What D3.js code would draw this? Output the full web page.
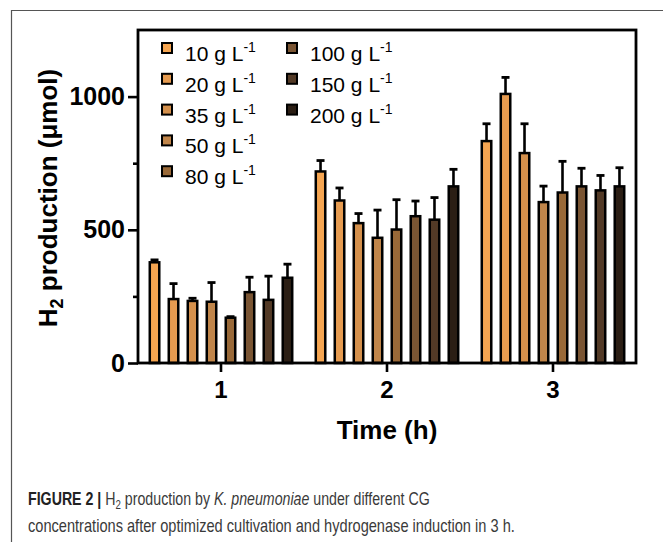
<!DOCTYPE html>
<html>
<head>
<meta charset="utf-8">
<script src="https://cdn.jsdelivr.net/npm/d3@7"></script>
<style>
  body { margin: 0; background: #fff; }
  svg { display: block; font-family: "Liberation Sans", Arial, Helvetica, sans-serif; }
</style>
</head>
<body>
<svg id="chart" width="663" height="542"></svg>
<script>
// data
const timeLabels = ["1", "2", "3"];
const concLabels = ["10", "20", "35", "50", "80", "100", "150", "200"];
const concColors = ["#F5A551", "#E69B50", "#D4904C", "#C0854A", "#996938", "#7A5533", "#533A26", "#2B1E14"];
// mean H2 production (µmol), one array per time point, in concLabels order
const meanT1 = [378, 240, 233, 230, 170, 266, 237, 320];
const meanT2 = [719, 610, 525, 470, 501, 551, 538, 663];
const meanT3 = [833, 1010, 788, 604, 640, 663, 648, 663];
// upper error bars
const errT1 = [9, 58, 10, 72, 4, 56, 89, 51];
const errT2 = [41, 47, 36, 104, 112, 57, 83, 64];
const errT3 = [65, 62, 110, 60, 117, 68, 56, 70];
const yMajorTicks = [0, 500, 1000];
const yMinorTicks = [250, 750];

const means = [meanT1, meanT2, meanT3];
const errs = [errT1, errT2, errT3];

const svg = d3.select("#chart");
const margin = {left: 138, top: 30, right: 27, bottom: 179};
const W = 663 - margin.left - margin.right;
const H = 542 - margin.top - margin.bottom;

// cropped figure frame (top and left edge only)
svg.append("line").attr("x1", 11).attr("x2", 663).attr("y1", 10.5).attr("y2", 10.5)
	.attr("stroke", "#555").attr("stroke-width", 1.2);
svg.append("line").attr("x1", 11.5).attr("x2", 11.5).attr("y1", 10).attr("y2", 542)
	.attr("stroke", "#555").attr("stroke-width", 1.2);

const g = svg.append("g").attr("transform", "translate(" + margin.left + "," + margin.top + ")");

const x0 = d3.scaleBand().domain(timeLabels).range([0, W]);
const x1 = d3.scaleBand().domain(concLabels).range([0, x0.bandwidth()])
	.paddingInner(0.5).paddingOuter(0.62);
const y = d3.scaleLinear().domain([0, 1250]).range([H, 0]);
const color = d3.scaleOrdinal().domain(concLabels).range(concColors);

const rows = [];
timeLabels.forEach(function(t, i) {
	concLabels.forEach(function(c, j) {
		rows.push({time: t, conc: c, value: means[i][j], err: errs[i][j]});
	});
});

// error bars (upper only) drawn under the bars
const eb = g.append("g").attr("class", "errors")
	.selectAll("g").data(rows).enter().append("g")
	.attr("transform", function(d) { return "translate(" + (x0(d.time) + x1(d.conc) + x1.bandwidth() / 2) + ",0)"; });
eb.append("line")
	.attr("y1", function(d) { return y(d.value); })
	.attr("y2", function(d) { return y(d.value + d.err); })
	.attr("stroke", "#000").attr("stroke-width", 2.6);
eb.append("line")
	.attr("x1", -4).attr("x2", 4)
	.attr("y1", function(d) { return y(d.value + d.err); })
	.attr("y2", function(d) { return y(d.value + d.err); })
	.attr("stroke", "#000").attr("stroke-width", 2.8);

g.append("g").attr("class", "bars")
	.selectAll("rect").data(rows).enter().append("rect")
	.attr("x", function(d) { return x0(d.time) + x1(d.conc); })
	.attr("y", function(d) { return y(d.value); })
	.attr("width", x1.bandwidth())
	.attr("height", function(d) { return H - y(d.value); })
	.attr("fill", function(d) { return color(d.conc); })
	.attr("stroke", "#000").attr("stroke-width", 2.5);

// plot box
g.append("rect").attr("x", 0).attr("y", 0).attr("width", W).attr("height", H)
	.attr("fill", "none").attr("stroke", "#000").attr("stroke-width", 2.8);

// y axis
const yAxis = g.append("g")
	.call(d3.axisLeft(y).tickValues(yMajorTicks).tickSize(10).tickPadding(3).tickFormat(d3.format("d")));
yAxis.selectAll("text").attr("font-size", 25).attr("font-weight", "bold").attr("fill", "#000")
	.attr("font-family", "'Liberation Sans', Arial, sans-serif");
const yMinor = g.append("g")
	.call(d3.axisLeft(y).tickValues(yMinorTicks).tickSize(5).tickFormat(""));
[yAxis, yMinor].forEach(function(a) {
	a.select(".domain").remove();
	a.selectAll("line").attr("stroke", "#000").attr("stroke-width", 2.6);
});

// x axis
const xAxis = g.append("g").attr("transform", "translate(0," + H + ")")
	.call(d3.axisBottom(x0).tickSize(9).tickPadding(9));
xAxis.select(".domain").remove();
xAxis.selectAll("line").attr("stroke", "#000").attr("stroke-width", 2.6);
xAxis.selectAll("text").attr("font-size", 24).attr("font-weight", "bold").attr("fill", "#000")
	.attr("font-family", "'Liberation Sans', Arial, sans-serif");

// axis titles
const yTitle = svg.append("text")
	.attr("transform", "translate(57,198) rotate(-90)")
	.attr("text-anchor", "middle")
	.attr("font-size", 26).attr("font-weight", "bold");
yTitle.append("tspan").text("H");
yTitle.append("tspan").attr("font-size", 18).attr("dy", 6).text("2");
yTitle.append("tspan").attr("dy", -6).text(" production (\u03bcmol)");

svg.append("text")
	.attr("x", margin.left + W / 2).attr("y", 439)
	.attr("text-anchor", "middle")
	.attr("font-size", 26).attr("font-weight", "bold")
	.text("Time (h)");

// legend
const legend = svg.append("g").attr("class", "legend")
	.selectAll("g").data(concLabels).enter().append("g")
	.attr("transform", function(d, i) {
		const col = i < 5 ? 0 : 1;
		const row = i < 5 ? i : i - 5;
		return "translate(" + (col === 0 ? 167 : 292) + "," + (48 + row * 30.8) + ")";
	});
legend.append("rect")
	.attr("x", -5).attr("y", -5).attr("width", 10).attr("height", 10)
	.attr("fill", function(d) { return color(d); })
	.attr("stroke", "#000").attr("stroke-width", 2);
const lt = legend.append("text")
	.attr("x", 18).attr("y", 13)
	.attr("font-size", 21).attr("fill", "#000");
lt.append("tspan").text(function(d) { return d + " g L"; });
lt.append("tspan").attr("font-size", 14).attr("dy", -9).text("-1");

// caption, squeezed horizontally to the narrow journal face
function fitCaption(textSel, x, yPos, targetWidth) {
	const w = textSel.node().getComputedTextLength();
	textSel.attr("transform", "translate(" + x + "," + yPos + ") scale(" + (targetWidth / w) + ",1)");
}
const cap1 = svg.append("text")
	.attr("font-size", 17.5).attr("fill", "#3a3a3a");
cap1.append("tspan").attr("font-weight", "bold").attr("fill", "#222").text("FIGURE 2 | ");
cap1.append("tspan").text("H");
cap1.append("tspan").attr("font-size", 12).attr("dy", 4).text("2");
cap1.append("tspan").attr("dy", -4).text(" production by ");
cap1.append("tspan").attr("font-style", "italic").text("K. pneumoniae");
cap1.append("tspan").text(" under different CG");
fitCaption(cap1, 28, 505, 402);

const cap2 = svg.append("text")
	.attr("font-size", 17.5).attr("fill", "#3a3a3a")
	.text("concentrations after optimized cultivation and hydrogenase induction in 3 h.");
fitCaption(cap2, 28, 532, 487);
</script>
</body>
</html>
